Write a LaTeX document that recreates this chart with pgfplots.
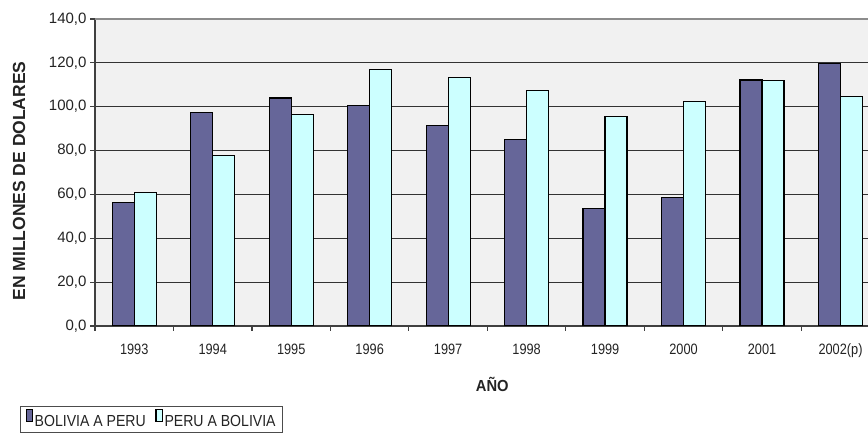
\documentclass[border=0pt]{standalone}
\usepackage{fontspec}
\setmainfont{Liberation Sans}
\newfontfamily\condfont[FakeStretch=0.85]{Liberation Sans}
\newfontfamily\legfont[FakeStretch=0.88]{Liberation Sans}
\newfontfamily\titfont[FakeStretch=0.92]{Liberation Sans}
\usepackage{pgfplots}
\pgfplotsset{compat=1.18}
\definecolor{bolper}{RGB}{102,102,153}
\definecolor{perbol}{RGB}{204,255,255}
\definecolor{plotbg}{RGB}{241,241,241}
\definecolor{txt}{RGB}{35,35,35}
\begin{document}
\begin{tikzpicture}
\path[use as bounding box] (0,0) rectangle (868pt,433pt);
\begin{axis}[
  at={(95pt,107pt)}, anchor=south west,
  scale only axis, width=773pt, height=307pt,
  xmin=-0.5, xmax=9.35, ymin=0, ymax=140,
  ybar=0pt, bar width=22pt,
  axis y line*=left, axis x line*=bottom,
  axis line style={draw=black!75, line width=1.3pt},
  axis background/.style={fill=plotbg},
  ymajorgrids, grid style={draw=black!80, line width=1.1pt},
  ytick={0,20,...,140},
  xtick={0,...,9},
  xticklabels={1993,1994,1995,1996,1997,1998,1999,2000,2001,2002(p)},
  minor xtick={-0.5,0.5,...,8.5},
  tick align=outside,
  major tick length=5pt, minor tick length=5pt,
  tick style={draw=black!75, line width=1.1pt},
  major x tick style={draw=none},
  /pgf/number format/.cd, fixed, fixed zerofill, precision=1, use comma, assume math mode=true,
  /pgfplots/.cd,
  yticklabel style={font=\fontsize{15}{17}\selectfont, text=txt},
  xticklabel style={font=\condfont\fontsize{15}{17}\selectfont, text=txt, yshift=-9pt},
  ylabel={EN MILLONES DE DOLARES},
  ylabel style={at={(axis description cs:-0.0983,0.4723)}, anchor=center, font=\bfseries\fontsize{17.5}{19}\selectfont, text=txt},
  xlabel={AÑO},
  xlabel style={at={(axis description cs:0.514,-0.189)}, anchor=center, font=\titfont\bfseries\fontsize{16}{18}\selectfont, text=txt},
  every axis plot/.append style={draw=black, line width=1.3pt},
  legend columns=2,
  legend style={at={(axis description cs:-0.097,-0.2596)}, anchor=north west,
    draw=black!70, line width=1pt, fill=white, inner xsep=5pt, inner ysep=3pt,
    font=\legfont\fontsize{16}{18}\selectfont, text=txt,
    nodes={inner sep=1.5pt},
    /tikz/every even column/.append style={column sep=8pt}},
  legend image code/.code={\draw[#1, line width=1.2pt] (0pt,-0.5pt) rectangle (6.5pt,11.5pt);},
  after end axis/.code={\draw[black!45, line width=2pt] (rel axis cs:0,1) -- (rel axis cs:1,1);},
]
\addplot[fill=bolper] coordinates {(0,56.2) (1,97.4) (2,104.0) (3,100.5) (4,91.3) (5,85.1) (6,53.7) (7,58.7) (8,112.2) (9,119.8)};
\addplot[fill=perbol] coordinates {(0,61.0) (1,77.7) (2,96.5) (3,117.0) (4,113.2) (5,107.3) (6,95.6) (7,102.5) (8,112.0) (9,104.6)};
\legend{BOLIVIA A PERU, PERU A BOLIVIA}
\end{axis}
\end{tikzpicture}
\end{document}
